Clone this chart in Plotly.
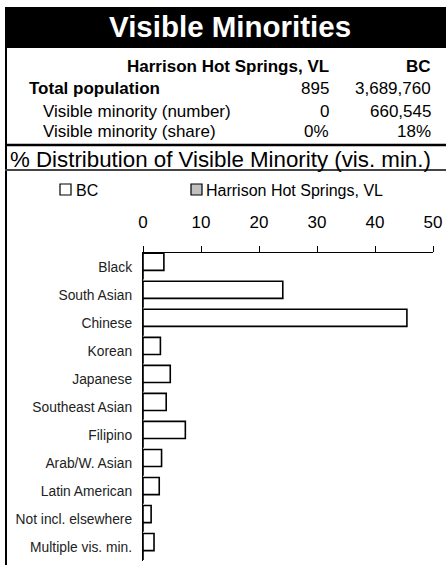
import plotly.graph_objects as go

W, H = 446, 565

title = "Visible Minorities"
place = "Harrison Hot Springs, VL"
province = "BC"
row_labels = ["Total population", "Visible minority (number)", "Visible minority (share)"]
place_vals = ["895", "0", "0%"]
prov_vals = ["3,689,760", "660,545", "18%"]
subtitle = "% Distribution of Visible Minority (vis. min.)"

categories = ["Black", "South Asian", "Chinese", "Korean", "Japanese", "Southeast Asian",
              "Filipino", "Arab/W. Asian", "Latin American", "Not incl. elsewhere",
              "Multiple vis. min."]
bc_share = [3.6, 24.1, 45.5, 3.0, 4.7, 4.0, 7.3, 3.2, 2.8, 1.4, 1.9]
place_share = [0, 0, 0, 0, 0, 0, 0, 0, 0, 0, 0]
x_ticks = [0, 10, 20, 30, 40, 50]

FONT = "Liberation Sans, Arial, sans-serif"


def px(x):
    return x / W


def py(y):
    return 1 - y / H


fig = go.Figure()
fig.add_trace(go.Bar(
    x=bc_share, y=categories, orientation="h", name="BC",
    marker=dict(color="white", line=dict(color="black", width=1.6)),
    width=0.61, offset=-0.48, showlegend=False,
))
fig.add_trace(go.Bar(
    x=place_share, y=categories, orientation="h", name=place,
    marker=dict(color="#c0c0c0", line=dict(color="black", width=1.6)),
    width=0.33, offset=0.13, showlegend=False,
))

shapes = []
# title black bar
shapes.append(dict(type="rect", xref="paper", yref="paper", x0=px(5), x1=px(446),
                   y0=py(48), y1=py(7), fillcolor="black", line=dict(width=0), layer="below"))
# left border
shapes.append(dict(type="line", xref="paper", yref="paper", x0=px(6), x1=px(6),
                   y0=py(7), y1=py(565), line=dict(color="black", width=2)))
# separators
shapes.append(dict(type="line", xref="paper", yref="paper", x0=px(5), x1=px(446),
                   y0=py(145), y1=py(145), line=dict(color="black", width=2.5)))
shapes.append(dict(type="line", xref="paper", yref="paper", x0=px(5), x1=px(446),
                   y0=py(170), y1=py(170), line=dict(color="#444444", width=2)))
# legend squares
shapes.append(dict(type="rect", xref="paper", yref="paper", x0=px(60), x1=px(71),
                   y0=py(195), y1=py(184), fillcolor="white", line=dict(color="black", width=1.2)))
shapes.append(dict(type="rect", xref="paper", yref="paper", x0=px(191), x1=px(202),
                   y0=py(195), y1=py(184), fillcolor="#c0c0c0", line=dict(color="black", width=1.2)))

ann = []
ann.append(dict(text="<b>" + title + "</b>", x=px(230), y=py(26), xref="paper", yref="paper",
                xanchor="center", yanchor="middle", showarrow=False,
                font=dict(family=FONT, size=29.5, color="white")))
ann.append(dict(text="<b>" + place + "</b>", x=px(331), y=py(66), xref="paper", yref="paper",
                xanchor="right", yanchor="middle", showarrow=False,
                font=dict(family=FONT, size=17, color="black")))
ann.append(dict(text="<b>" + province + "</b>", x=px(433), y=py(66), xref="paper", yref="paper",
                xanchor="right", yanchor="middle", showarrow=False,
                font=dict(family=FONT, size=17, color="black")))
row_y = [88, 111, 131]
row_x = [27, 41, 41]
for i, lab in enumerate(row_labels):
    txt = "<b>" + lab + "</b>" if i == 0 else lab
    ann.append(dict(text=txt, x=px(row_x[i]), y=py(row_y[i]), xref="paper", yref="paper",
                    xanchor="left", yanchor="middle", showarrow=False,
                    font=dict(family=FONT, size=17, color="black")))
    ann.append(dict(text=place_vals[i], x=px(331), y=py(row_y[i]), xref="paper", yref="paper",
                    xanchor="right", yanchor="middle", showarrow=False,
                    font=dict(family=FONT, size=17, color="black")))
    ann.append(dict(text=prov_vals[i], x=px(433), y=py(row_y[i]), xref="paper", yref="paper",
                    xanchor="right", yanchor="middle", showarrow=False,
                    font=dict(family=FONT, size=17, color="black")))
ann.append(dict(text=subtitle, x=px(220), y=py(159.5), xref="paper", yref="paper",
                xanchor="center", yanchor="middle", showarrow=False,
                font=dict(family=FONT, size=22.3, color="black")))
ann.append(dict(text="BC", x=px(74), y=py(190), xref="paper", yref="paper",
                xanchor="left", yanchor="middle", showarrow=False,
                font=dict(family=FONT, size=16, color="black")))
ann.append(dict(text=place, x=px(204), y=py(190), xref="paper", yref="paper",
                xanchor="left", yanchor="middle", showarrow=False,
                font=dict(family=FONT, size=16, color="black")))

fig.update_layout(
    width=W, height=H, autosize=False,
    margin=dict(l=0, r=0, t=0, b=0, pad=0),
    paper_bgcolor="white", plot_bgcolor="white",
    showlegend=False,
    barmode="overlay",
    shapes=shapes, annotations=ann,
    xaxis=dict(domain=[px(143), px(433)], range=[0, 50], side="top",
               tickvals=x_ticks, ticks="outside", ticklen=6, tickwidth=1, tickcolor="black",
               showline=True, linecolor="black", linewidth=1,
               showgrid=False, zeroline=False, automargin=False,
               tickfont=dict(family=FONT, size=17, color="black"),
               ticklabelstandoff=11, fixedrange=True),
    yaxis=dict(domain=[py(561), py(252.7)], range=[len(categories) - 0.5, -0.5],
               type="category", categoryorder="array", categoryarray=categories,
               showline=True, linecolor="black", linewidth=1.3,
               ticks="", showgrid=False, zeroline=False, automargin=False,
               tickfont=dict(family=FONT, size=13.8, color="#222222"),
               ticklabelstandoff=7, fixedrange=True),
)

fig.write_html("out.html", config={"displayModeBar": False},
               post_script="document.body.style.margin='0';document.body.style.overflow='hidden';")
